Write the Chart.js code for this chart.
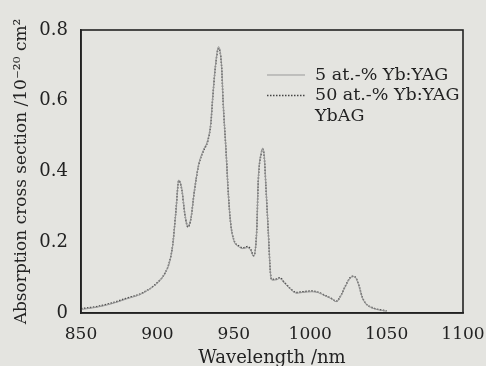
<!DOCTYPE html>
<html><head><meta charset="utf-8">
<script src="https://cdn.jsdelivr.net/npm/chart.js@4/dist/chart.umd.min.js"></script>
<style>html,body{margin:0;padding:0;background:#e4e4e0;}#wrap{width:486px;height:366px;}</style>
</head><body><div id="wrap"><canvas id="c" width="486" height="366"></canvas></div>
<script>
const wavelength = [850,860,870,880,890,900,905,908,910,912,914,916,918,920,922,924,927,930,933,935,936,938,940,942,943,945,946.5,948,950,953,956,959,961,963,965,966,968,969,970,971,972.5,974,975,978,980,983,987,991,995,1001,1005,1010,1014,1017,1020,1023,1026,1028,1030,1032,1034,1036,1038,1042,1046,1050];
const yag5  = [0.010,0.016,0.026,0.040,0.055,0.085,0.112,0.145,0.190,0.280,0.376,0.350,0.280,0.245,0.270,0.340,0.420,0.460,0.490,0.540,0.600,0.700,0.753,0.700,0.600,0.450,0.330,0.250,0.205,0.188,0.182,0.185,0.178,0.160,0.235,0.376,0.455,0.466,0.440,0.360,0.235,0.110,0.093,0.094,0.098,0.085,0.068,0.056,0.058,0.060,0.058,0.048,0.040,0.032,0.048,0.075,0.098,0.103,0.098,0.075,0.045,0.028,0.020,0.012,0.008,0.005];
const yag50 = [0.012,0.018,0.028,0.042,0.056,0.086,0.113,0.146,0.192,0.282,0.374,0.348,0.278,0.243,0.268,0.338,0.418,0.457,0.487,0.536,0.596,0.697,0.748,0.698,0.598,0.452,0.332,0.252,0.207,0.190,0.184,0.188,0.180,0.162,0.233,0.372,0.452,0.463,0.438,0.358,0.236,0.112,0.095,0.096,0.100,0.087,0.069,0.058,0.060,0.062,0.059,0.049,0.041,0.033,0.049,0.076,0.099,0.104,0.099,0.076,0.046,0.029,0.021,0.013,0.009,0.006];
const ybag  = [0.011,0.017,0.027,0.041,0.055,0.085,0.112,0.145,0.191,0.281,0.375,0.349,0.279,0.244,0.269,0.339,0.419,0.458,0.488,0.538,0.598,0.698,0.750,0.699,0.599,0.451,0.331,0.251,0.206,0.189,0.183,0.186,0.179,0.161,0.234,0.374,0.453,0.464,0.439,0.359,0.235,0.111,0.094,0.095,0.099,0.086,0.068,0.057,0.059,0.061,0.058,0.048,0.040,0.032,0.048,0.075,0.098,0.103,0.098,0.075,0.045,0.028,0.020,0.012,0.008,0.005];
const seriesNames = ['5 at.-% Yb:YAG','50 at.-% Yb:YAG','YbAG'];
const xTicks = [850,900,950,1000,1050,1100];
const yTicks = [0,0.2,0.4,0.6,0.8];

const FONT = '"DejaVu Serif","Liberation Serif",serif';
const toPts = ys => wavelength.map((x,i)=>({x:x,y:ys[i]}));

const frame = {
  id:'frame',
  beforeDraw(chart){
    const c=chart.ctx; c.save(); c.fillStyle='#e4e4e0'; c.fillRect(0,0,chart.width,chart.height); c.restore();
  },
  afterDraw(chart){
    const a=chart.chartArea, c=chart.ctx;
    c.save(); c.strokeStyle='#222'; c.lineWidth=1.6;
    c.strokeRect(a.left,a.top,a.right-a.left,a.bottom-a.top);
    const ds=chart.data.datasets;
    const ys=[75,95.5,116];
    c.font='17.5px '+FONT; c.fillStyle='#222'; c.textBaseline='middle';
    ds.forEach((d,i)=>{
      const y=ys[i];
      c.strokeStyle=d.borderColor; c.lineWidth=d.borderWidth; c.setLineDash(d.borderDash||[]);
      if(d.legendLine!==false){c.beginPath(); c.moveTo(267,y); c.lineTo(305,y); c.stroke();}
      c.setLineDash([]);
      c.fillText(d.label,315,y);
    });
    c.restore();
  }
};

new Chart(document.getElementById('c'),{
  type:'line',
  data:{datasets:[
    {label:seriesNames[0],data:toPts(yag5),borderColor:'#999',borderWidth:1,pointRadius:0,cubicInterpolationMode:'monotone'},
    {label:seriesNames[1],data:toPts(yag50),borderColor:'#444',borderWidth:1.5,borderDash:[1.5,1.5],pointRadius:0,cubicInterpolationMode:'monotone'},
    {label:seriesNames[2],data:toPts(ybag),borderColor:'rgba(100,100,100,0.45)',borderWidth:1,borderDash:[1,3],pointRadius:0,cubicInterpolationMode:'monotone',legendLine:false}
  ]},
  options:{
    responsive:false,animation:false,
    layout:{padding:{top:30,right:23,left:11,bottom:0}},
    plugins:{legend:{display:false},tooltip:{enabled:false}},
    scales:{
      x:{type:'linear',min:850,max:1100,
        afterBuildTicks:s=>{s.ticks=xTicks.map(v=>({value:v}));},
        grid:{display:false,drawTicks:true,tickLength:4,tickColor:'#222'},
        border:{display:true,color:'#222',width:1.6},
        ticks:{color:'#222',font:{family:FONT,size:17},padding:7,maxRotation:0,callback:v=>String(v)},
        title:{display:true,text:'Wavelength /nm',color:'#222',font:{family:FONT,size:18},padding:{top:0,bottom:-3}},
        afterFit:s=>{s.height=53;s.paddingLeft=0;s.paddingRight=0;}
      },
      y:{type:'linear',min:0,max:0.8,
        afterBuildTicks:s=>{s.ticks=yTicks.map(v=>({value:v}));},
        grid:{display:false,drawTicks:true,tickLength:5,tickColor:'#222'},
        border:{display:true,color:'#222',width:1.6},
        ticks:{color:'#222',font:{family:FONT,size:18},padding:8,callback:v=>String(Math.round(v*10)/10)},
        title:{display:true,text:'Absorption cross section /10\u207B\u00B2\u2070 cm\u00B2',color:'#222',font:{family:FONT,size:17},padding:{top:0,bottom:0}},
        afterFit:s=>{s.width=70;s.paddingTop=0;s.paddingBottom=0;}
      }
    }
  },
  plugins:[frame]
});
</script></body></html>
